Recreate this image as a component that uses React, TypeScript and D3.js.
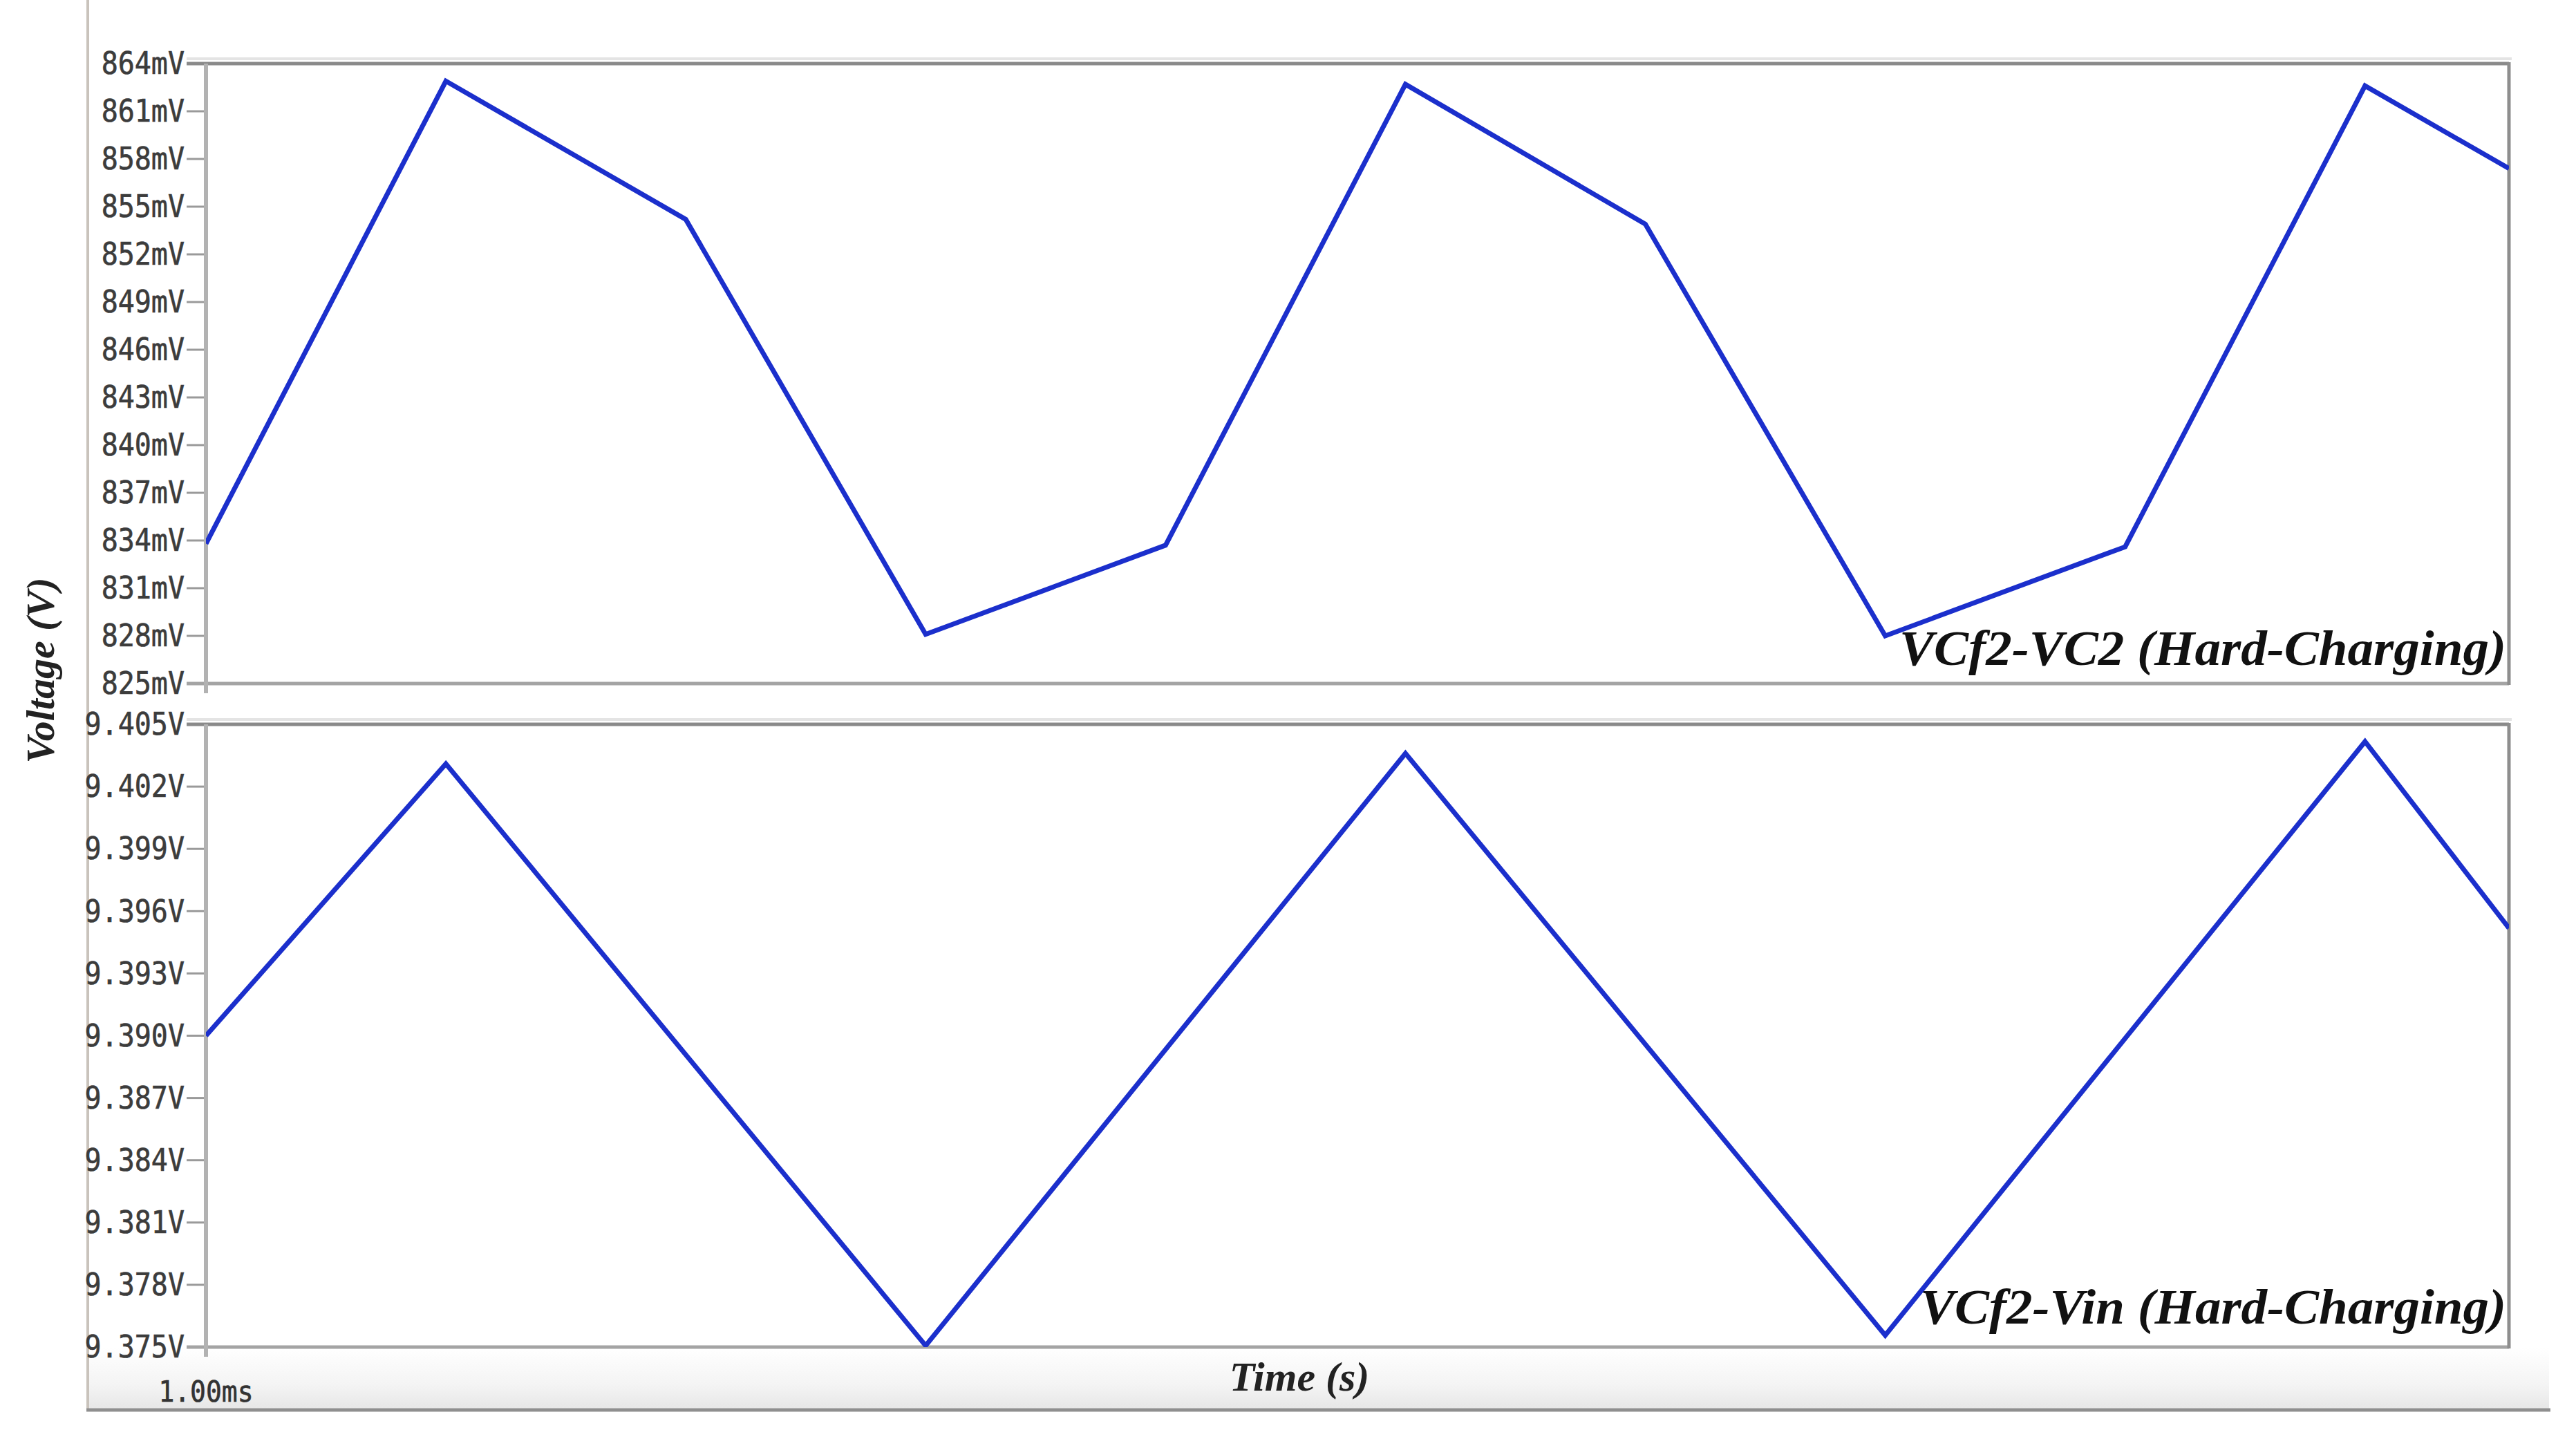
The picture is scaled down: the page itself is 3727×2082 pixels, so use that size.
import React from "react";
import * as d3 from "d3";

// ---- data (time in µs after 1.00 ms) ----
const TOP_TIME_US = [0, 2.5, 5, 7.5, 10, 12.5, 15, 17.5, 20, 22.5, 24];
const TOP_VCF2_VC2_MV = [833.8, 862.9, 854.2, 828.1, 833.7, 862.7, 853.9, 828.0, 833.6, 862.6, 857.4];

const BOT_TIME_US = [0, 2.5, 7.5, 12.5, 17.5, 22.5, 24];
const BOT_VCF2_VIN_V = [9.39, 9.4031, 9.37507, 9.4036, 9.37557, 9.40417, 9.39518];

const TOP_TICKS_MV = [825, 828, 831, 834, 837, 840, 843, 846, 849, 852, 855, 858, 861, 864];
const BOT_TICKS_V = [9.375, 9.378, 9.381, 9.384, 9.387, 9.39, 9.393, 9.396, 9.399, 9.402, 9.405];

const TOP_LABEL = "VCf2-VC2 (Hard-Charging)";
const BOT_LABEL = "VCf2-Vin (Hard-Charging)";
const X_LABEL = "Time (s)";
const Y_LABEL = "Voltage (V)";
const X_TICK_LABEL = "1.00ms";

const W = 3727;
const H = 2082;
const L = 298;
const R = 3630;
const TOP = { y0: 92, y1: 989 };
const BOT = { y0: 1048, y1: 1949 };

const BLUE = "#1b2fcc";
const MONO = "'DejaVu Sans Mono', 'Liberation Mono', monospace";
const SERIF = "'Liberation Serif', 'DejaVu Serif', serif";

export default function App() {
  const x = d3.scaleLinear().domain([0, 24]).range([L, R]);
  const yTop = d3.scaleLinear().domain([825, 864]).range([TOP.y1, TOP.y0]);
  const yBot = d3.scaleLinear().domain([9.375, 9.405]).range([BOT.y1, BOT.y0]);

  const topPts: [number, number][] = TOP_TIME_US.map((t, i) => [t, TOP_VCF2_VC2_MV[i]]);
  const botPts: [number, number][] = BOT_TIME_US.map((t, i) => [t, BOT_VCF2_VIN_V[i]]);

  const lineTop = d3
    .line<[number, number]>()
    .x((d) => x(d[0]))
    .y((d) => yTop(d[1]));
  const lineBot = d3
    .line<[number, number]>()
    .x((d) => x(d[0]))
    .y((d) => yBot(d[1]));

  const fmtTop = (v: number) => `${v}mV`;
  const fmtBot = (v: number) => `${v.toFixed(3)}V`;

  const panel = (
    y0: number,
    y1: number,
    ticks: number[],
    scale: d3.ScaleLinear<number, number>,
    fmt: (v: number) => string,
    key: string
  ) => (
    <g key={key}>
      <line x1={L - 28} x2={R + 4} y1={y0 - 7} y2={y0 - 7} stroke="#e4e4e4" strokeWidth={4} />
      <rect x={L} y={y0} width={R - L} height={y1 - y0} fill="#ffffff" />
      {ticks.map((t) => (
        <g key={t}>
          <line x1={L - 28} x2={L} y1={scale(t)} y2={scale(t)} stroke="#9a9a9a" strokeWidth={3} />
          <text
            x={L - 31}
            y={scale(t)}
            textAnchor="end"
            dominantBaseline="central"
            fontFamily={MONO}
            fontSize={40}
            fill="#3c3c3c"
            stroke="#3c3c3c"
            strokeWidth={0.6}
            transform={`translate(0, ${scale(t)}) scale(1, 1.12) translate(0, ${-scale(t)})`}
          >
            {fmt(t)}
          </text>
        </g>
      ))}
      <line x1={L - 28} x2={R} y1={y0} y2={y0} stroke="#8a8a8a" strokeWidth={5} />
      <line x1={L - 28} x2={R} y1={y1} y2={y1} stroke="#a4a4a4" strokeWidth={5} />
      <line x1={L} x2={L} y1={y0} y2={y1 + 14} stroke="#b2b2b2" strokeWidth={6} />
      <line x1={R} x2={R} y1={y0 - 2} y2={y1 + 2} stroke="#8e8e8e" strokeWidth={5} />
    </g>
  );

  return (
    <svg
      width={W}
      height={H}
      style={{ position: "absolute", left: 0, top: 0, background: "#ffffff" }}
      xmlns="http://www.w3.org/2000/svg"
    >
      <defs>
        <linearGradient id="band" x1="0" y1="0" x2="0" y2="1">
          <stop offset="0" stopColor="#ffffff" />
          <stop offset="0.6" stopColor="#f4f4f4" />
          <stop offset="1" stopColor="#e6e6e6" />
        </linearGradient>
        <clipPath id="clipTop">
          <rect x={L} y={TOP.y0} width={R - L} height={TOP.y1 - TOP.y0} />
        </clipPath>
        <clipPath id="clipBot">
          <rect x={L} y={BOT.y0} width={R - L} height={BOT.y1 - BOT.y0} />
        </clipPath>
      </defs>
      <rect x={0} y={0} width={W} height={H} fill="#ffffff" />

      <rect x={128} y={BOT.y1} width={3560} height={2040 - BOT.y1} fill="url(#band)" />

      <line x1={127} x2={127} y1={0} y2={2042} stroke="#c9c3bc" strokeWidth={4} />
      <line x1={125} x2={3690} y1={2040} y2={2040} stroke="#8f8f8f" strokeWidth={5} />

      {panel(TOP.y0, TOP.y1, TOP_TICKS_MV, yTop, fmtTop, "top")}
      {panel(BOT.y0, BOT.y1, BOT_TICKS_V, yBot, fmtBot, "bot")}

      <path
        d={lineTop(topPts) || ""}
        fill="none"
        stroke={BLUE}
        strokeWidth={7}
        strokeLinejoin="miter"
        clipPath="url(#clipTop)"
      />
      <path
        d={lineBot(botPts) || ""}
        fill="none"
        stroke={BLUE}
        strokeWidth={7}
        strokeLinejoin="miter"
        clipPath="url(#clipBot)"
      />

      <text
        x={R - 4}
        y={962}
        textAnchor="end"
        fontFamily={SERIF}
        fontStyle="italic"
        fontWeight="bold"
        fontSize={72}
        fill="#111"
        textLength={878}
        lengthAdjust="spacingAndGlyphs"
      >
        {TOP_LABEL}
      </text>
      <text
        x={R - 4}
        y={1915}
        textAnchor="end"
        fontFamily={SERIF}
        fontStyle="italic"
        fontWeight="bold"
        fontSize={72}
        fill="#111"
        textLength={848}
        lengthAdjust="spacingAndGlyphs"
      >
        {BOT_LABEL}
      </text>

      <text
        x={1880}
        y={2012}
        textAnchor="middle"
        fontFamily={SERIF}
        fontStyle="italic"
        fontWeight="bold"
        fontSize={60}
        fill="#222"
      >
        {X_LABEL}
      </text>
      <text
        x={x(0)}
        y={2014}
        textAnchor="middle"
        dominantBaseline="central"
        fontFamily={MONO}
        fontSize={38}
        fill="#333"
        stroke="#333"
        strokeWidth={0.6}
        transform={`translate(0, 2014) scale(1, 1.12) translate(0, -2014)`}
      >
        {X_TICK_LABEL}
      </text>
      <text
        transform="translate(78, 970) rotate(-90)"
        textAnchor="middle"
        fontFamily={SERIF}
        fontStyle="italic"
        fontWeight="bold"
        fontSize={58}
        fill="#222"
      >
        {Y_LABEL}
      </text>
    </svg>
  );
}
